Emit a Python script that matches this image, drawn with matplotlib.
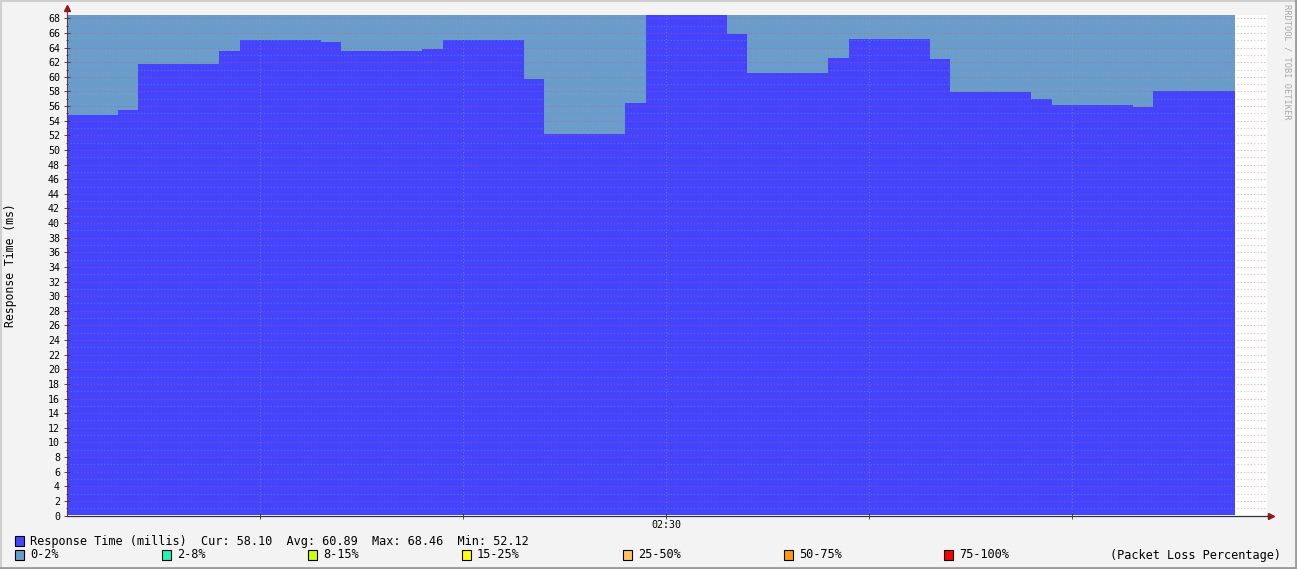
import matplotlib
matplotlib.use("Agg")
import matplotlib.pyplot as plt
from matplotlib.patches import Rectangle
from matplotlib.lines import Line2D
from matplotlib.ticker import MultipleLocator, FixedLocator, FixedFormatter

# --- data (minutes after 02:00) ---
step_edges = [0.5, 3, 4, 8, 9, 13, 14, 18, 19, 23, 24, 28, 29, 33, 34, 38,
              39, 43, 44, 48, 49, 53, 54, 58]
response_ms = [54.8, 55.5, 61.8, 63.6, 65.1, 64.7, 63.6, 63.8, 65.1, 59.7,
               52.12, 56.4, 68.46, 65.9, 60.5, 62.6, 65.2, 62.5, 57.9, 57.0,
               56.2, 55.9, 58.10]
y_max = 68.46
x_ticks = [10, 20, 30, 40, 50]
x_tick_labels = ["", "", "02:30", "", ""]

legend_main = "Response Time (millis)  Cur: 58.10  Avg: 60.89  Max: 68.46  Min: 52.12"
loss_labels = ["0-2%", "2-8%", "8-15%", "15-25%", "25-50%", "50-75%", "75-100%"]
loss_colors = ["#6a9dcb", "#1cf5b4", "#ccff00", "#ffff00", "#ffc460", "#ff9900", "#ff0000"]
rtt_color = "#4444ff"

W, H = 1297, 569
MONO = "DejaVu Sans Mono"

fig = plt.figure(figsize=(W / 100, H / 100), dpi=100, facecolor="#f3f3f3")


def fx(px):
    return px / W


def fy(py):
    return 1 - py / H


ax = fig.add_axes([fx(67), fy(515.5), fx(1267) - fx(67), fy(15) - fy(515.5)])
ax.set_facecolor("white")
ax.set_xlim(0.5, 59.6)
ax.set_ylim(0, y_max)

xs = step_edges
ys = response_ms + [response_ms[-1]]
ax.fill_between(xs, ys, y_max, step="post", color=loss_colors[0], lw=0)
ax.fill_between(xs, 0, ys, step="post", color=rtt_color, lw=0)

# grid on top of the areas, rrdtool style
ax.set_axisbelow(False)
ax.yaxis.set_major_locator(MultipleLocator(2))
ax.yaxis.set_minor_locator(MultipleLocator(1))
ax.xaxis.set_major_locator(FixedLocator(x_ticks))
ax.xaxis.set_major_formatter(FixedFormatter(x_tick_labels))
ax.grid(True, which="major", axis="y", color="#e05050", alpha=0.5,
        linestyle=(0, (1, 2)), linewidth=0.8)
ax.grid(True, which="minor", axis="y", color="#909090", alpha=0.5,
        linestyle=(0, (1, 2)), linewidth=0.8)
ax.grid(True, which="major", axis="x", color="#a0a0a0", alpha=0.45,
        linestyle=(0, (1, 2)), linewidth=0.8)

for s in ["top", "right"]:
    ax.spines[s].set_visible(False)
ax.spines["left"].set_color("#6a3a3a")
ax.spines["bottom"].set_color("#303040")
ax.spines["left"].set_linewidth(0.8)
ax.spines["bottom"].set_linewidth(0.9)

ax.tick_params(axis="y", which="major", direction="inout", length=4, width=0.6,
               labelsize=7.2, pad=3, colors="#333333", labelcolor="black")
ax.tick_params(axis="y", which="minor", direction="inout", length=2, width=0.6,
               colors="#333333")
ax.tick_params(axis="x", which="major", direction="inout", length=4, width=0.6,
               labelsize=7.2, pad=1, colors="#333333", labelcolor="black")
for lbl in ax.get_xticklabels() + ax.get_yticklabels():
    lbl.set_fontfamily(MONO)

# axis arrows
ax.plot([0, 0], [1, 1.012], transform=ax.transAxes, color="#6a3a3a", lw=0.8, clip_on=False)
ax.plot([0], [1.014], marker="^", markersize=4, color="#8b1a1a",
        transform=ax.transAxes, clip_on=False)
ax.plot([1, 1.002], [0, 0], transform=ax.transAxes, color="#303040", lw=0.9, clip_on=False)
ax.plot([1.003], [0], marker=">", markersize=4, color="#8b1a1a",
        transform=ax.transAxes, clip_on=False)

fig.text(fx(11), fy(265), "Response Time (ms)", rotation=90, ha="center", va="center",
         fontfamily=MONO, fontsize=8.3)

# watermark
fig.text(fx(1287), fy(4), "RRDTOOL / TOBI OETIKER", rotation=270, ha="center", va="top",
         fontfamily=MONO, fontsize=6.2, color="#a8a8a8")


# legend rows
def legend_box(px, py, color):
    fig.patches.append(Rectangle((fx(px), fy(py + 5)), 9 / W, 10 / H, transform=fig.transFigure,
                                 facecolor=color, edgecolor="black", lw=0.8))


legend_box(15, 541, rtt_color)
fig.text(fx(30), fy(541), legend_main, ha="left", va="center",
         fontfamily=MONO, fontsize=8.55)

loss_x = [15, 162, 308, 462, 623, 784, 944]
for px, lab, col in zip(loss_x, loss_labels, loss_colors):
    legend_box(px, 555, col)
    fig.text(fx(px + 15), fy(555), lab, ha="left", va="center",
             fontfamily=MONO, fontsize=8.55)
fig.text(fx(1281), fy(555), "(Packet Loss Percentage)", ha="right", va="center",
         fontfamily=MONO, fontsize=8.55)

# 3d-ish frame
fig.lines.append(Line2D([0, 1], [fy(1), fy(1)], transform=fig.transFigure, color="#cfcfcf", lw=1.5))
fig.lines.append(Line2D([fx(1), fx(1)], [0, 1], transform=fig.transFigure, color="#cfcfcf", lw=1.5))
fig.lines.append(Line2D([fx(1296), fx(1296)], [0, 1], transform=fig.transFigure, color="#9a9a9a", lw=2))
fig.lines.append(Line2D([0, 1], [fy(568), fy(568)], transform=fig.transFigure, color="#9a9a9a", lw=2))

fig.savefig("out.png", dpi=100, facecolor=fig.get_facecolor())
